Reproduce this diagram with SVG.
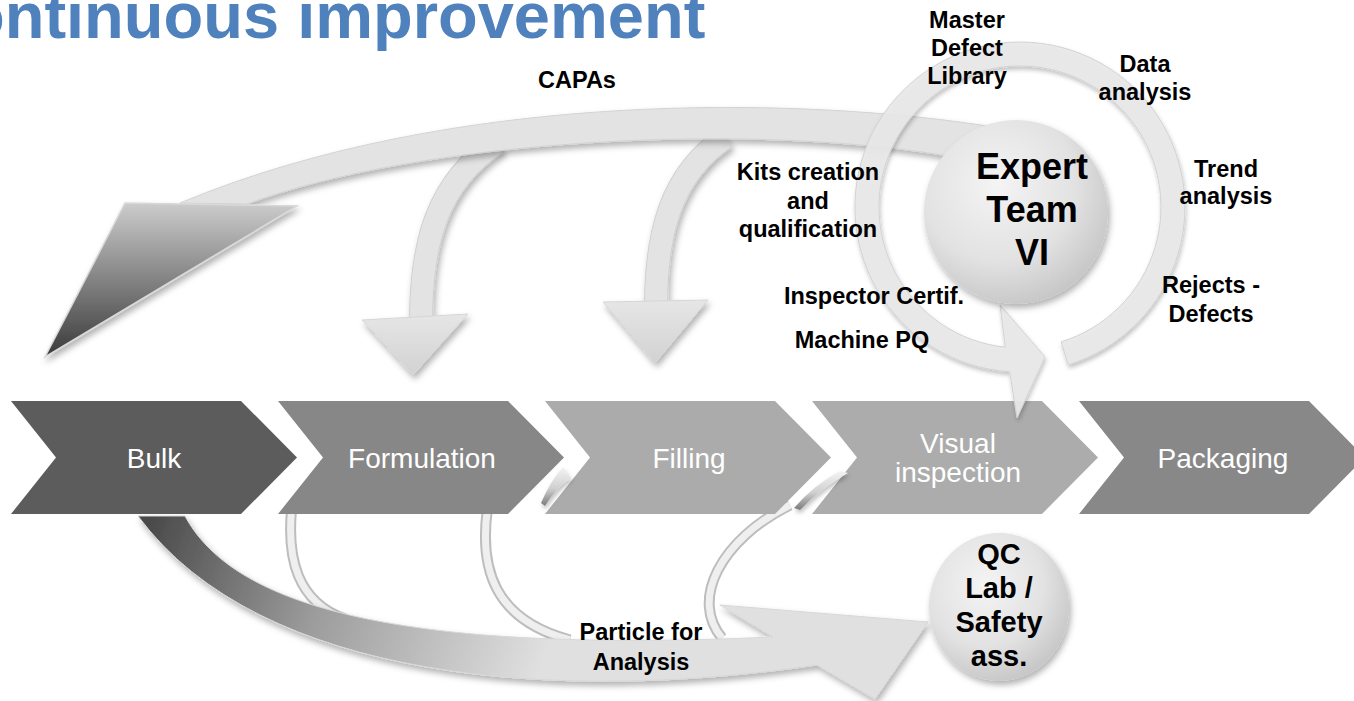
<svg xmlns="http://www.w3.org/2000/svg" width="1354" height="701" viewBox="0 0 1354 701">
  <defs>
    <filter id="shadow" x="-20%" y="-20%" width="150%" height="160%">
      <feDropShadow dx="2" dy="4" stdDeviation="3" flood-color="#000" flood-opacity="0.3"/>
    </filter>
    <filter id="softShadow" x="-20%" y="-20%" width="150%" height="160%">
      <feDropShadow dx="1" dy="3" stdDeviation="2" flood-color="#000" flood-opacity="0.25"/>
    </filter>
    <linearGradient id="capaHead" x1="0" y1="203" x2="0" y2="357" gradientUnits="userSpaceOnUse">
      <stop offset="0" stop-color="#cccccc"/>
      <stop offset="1" stop-color="#3a3a3a"/>
    </linearGradient>
    <linearGradient id="lightHead" x1="0" y1="0" x2="0" y2="1">
      <stop offset="0" stop-color="#e6e6e6"/>
      <stop offset="1" stop-color="#d2d2d2"/>
    </linearGradient>
    <linearGradient id="particleGrad" x1="150" y1="520" x2="540" y2="670" gradientUnits="userSpaceOnUse">
      <stop offset="0" stop-color="#4a4a4a"/>
      <stop offset="0.45" stop-color="#9c9c9c"/>
      <stop offset="1" stop-color="#e0e0e0"/>
    </linearGradient>
    <radialGradient id="ballGrad" cx="0.4" cy="0.35" r="0.7">
      <stop offset="0" stop-color="#f4f4f4"/>
      <stop offset="0.6" stop-color="#e2e2e2"/>
      <stop offset="1" stop-color="#c4c4c4"/>
    </radialGradient>
    <linearGradient id="curlGrad" x1="0" y1="0" x2="0" y2="1">
      <stop offset="0" stop-color="#f4f4f4"/>
      <stop offset="0.55" stop-color="#d0d0d0"/>
      <stop offset="1" stop-color="#7a7a7a"/>
    </linearGradient>
    <style>
      .title { font-family: "Liberation Sans", Arial, sans-serif; font-weight: bold; font-size: 65px; fill: #4F81BD; }
      .lbl { font-family: "Liberation Sans", Arial, sans-serif; font-weight: bold; font-size: 23.5px; fill: #000; text-anchor: middle; }
      .big { font-family: "Liberation Sans", Arial, sans-serif; font-weight: bold; font-size: 36px; fill: #000; text-anchor: middle; }
      .qc { font-family: "Liberation Sans", Arial, sans-serif; font-weight: bold; font-size: 29px; fill: #000; text-anchor: middle; }
      .step { font-family: "Liberation Sans", Arial, sans-serif; font-size: 28px; fill: #fff; text-anchor: middle; }
      .band { fill: #e3e3e3; stroke: #d3d3d3; stroke-width: 1; }
      .shaftOut { fill: none; stroke: #d0d0d0; stroke-width: 24; }
      .shaftIn { fill: none; stroke: #e3e3e3; stroke-width: 22; }
      .loopOut { fill: none; stroke: #bdbdbd; stroke-width: 11; }
      .loopIn { fill: none; stroke: #efefef; stroke-width: 7; }
      .head { fill: url(#lightHead); stroke: #d6d6d6; stroke-width: 1; }
    </style>
  </defs>

  <rect width="1354" height="701" fill="#fff"/>

  <text class="title" x="-35" y="38">ontinuous improvement</text>

  <g id="connectors">
    <!-- CAPA feedback: two branches down to Formulation and Filling -->
    <g id="capa-branches" filter="url(#shadow)">
      <path class="shaftOut" d="M 421 322 C 421 245 436 182 498 142"/>
      <path class="shaftIn" d="M 421 322 C 421 245 436 182 498 142"/>
      <polygon class="head" points="362,320 468,314 413,375"/>
      <path class="shaftOut" d="M 656 306 C 656 235 670 174 726 137"/>
      <path class="shaftIn" d="M 656 306 C 656 235 670 174 726 137"/>
      <polygon class="head" points="603,302 708,300 655,363"/>
    </g>
    <!-- CAPA main band from the expert team back to Bulk -->
    <g id="capa-band" filter="url(#shadow)">
      <path class="band" d="M 1000 128 C 800 95 450 90 180 203 L 247 204 C 420 140 750 120 960 158 Z"/>
      <polygon points="125,203 297,206 45,357" fill="url(#capaHead)" stroke="#d8d8d8" stroke-width="1.5"/>
    </g>
    <!-- particle sampling loops -->
    <g id="particle-loops">
      <path class="loopOut" d="M 292 505 C 286 560 298 602 345 619"/>
      <path class="loopIn" d="M 292 505 C 286 560 298 602 345 619"/>
      <path class="loopOut" d="M 488 505 C 478 570 495 620 570 640"/>
      <path class="loopIn" d="M 488 505 C 478 570 495 620 570 640"/>
      <path class="loopOut" d="M 790 505 C 720 540 690 600 722 638"/>
      <path class="loopIn" d="M 790 505 C 720 540 690 600 722 638"/>
    </g>
    <!-- particle band to QC lab -->
    <path id="particle-band" filter="url(#shadow)" fill="url(#particleGrad)" stroke="#d8d8d8" stroke-width="1"
          d="M 185 516 C 230 600 380 655 773 637 L 720 605 L 928 622 L 875 699 L 817 665 C 560 703 260 682 138 516 Z"/>
  </g>

  <g id="step-bulk">
    <polygon points="11,401 241,401 297,457.5 241,514 11,514 56,457.5" fill="#5c5c5c"/>
    <text class="step" x="154" y="468">Bulk</text>
  </g>
  <g id="step-formulation">
    <polygon points="278,401 508,401 564,457.5 508,514 278,514 323,457.5" fill="#878787"/>
    <text class="step" x="422" y="468">Formulation</text>
  </g>
  <g id="step-filling">
    <polygon points="545,401 775,401 831,457.5 775,514 545,514 590,457.5" fill="#ababab"/>
    <text class="step" x="689" y="468">Filling</text>
  </g>
  <g id="step-visual">
    <polygon points="812,401 1042,401 1098,457.5 1042,514 812,514 857,457.5" fill="#acacac"/>
    <text class="step" x="958" y="453">Visual</text>
    <text class="step" x="958" y="482">inspection</text>
  </g>
  <g id="step-packaging">
    <polygon points="1079,401 1309,401 1365,457.5 1309,514 1079,514 1124,457.5" fill="#888888"/>
    <text class="step" x="1223" y="468">Packaging</text>
  </g>

  <!-- loop ends curling out between the steps -->
  <g id="loop-tips" filter="url(#softShadow)">
    <path d="M 541 503 Q 551 480 563 467 L 571 478 Q 556 488 545 506 Z" fill="url(#curlGrad)"/>
    <path d="M 794 508 Q 815 484 840 471 L 848 473 Q 822 487 800 510 Z" fill="url(#curlGrad)"/>
  </g>

  <!-- expert team cycle ring -->
  <g id="expert-ring" filter="url(#softShadow)">
    <path d="M 1068.2 364.8 A 165 165 0 1 0 1009.7 371.7 L 1017 418 L 1045 357 L 1000 305 L 1005.3 347.2 A 141 141 0 1 1 1061.2 341.8 Z"
          fill="#e8e8e8" fill-opacity="0.92" stroke="#d2d2d2" stroke-width="1"/>
  </g>

  <g id="expert-team">
    <circle cx="1016" cy="212" r="92" fill="url(#ballGrad)" filter="url(#shadow)"/>
    <text class="big" x="1032" y="179">Expert</text>
    <text class="big" x="1032" y="222">Team</text>
    <text class="big" x="1032" y="265">VI</text>
  </g>

  <g id="qc-lab">
    <ellipse cx="999" cy="607" rx="70" ry="74" fill="url(#ballGrad)" filter="url(#shadow)"/>
    <text class="qc" x="999" y="564">QC</text>
    <text class="qc" x="999" y="598">Lab /</text>
    <text class="qc" x="999" y="632">Safety</text>
    <text class="qc" x="999" y="666">ass.</text>
  </g>

  <g id="labels">
    <text class="lbl" x="577" y="88">CAPAs</text>
    <text class="lbl" x="967" y="28">Master</text>
    <text class="lbl" x="967" y="56">Defect</text>
    <text class="lbl" x="967" y="84">Library</text>
    <text class="lbl" x="1145" y="72">Data</text>
    <text class="lbl" x="1145" y="100">analysis</text>
    <text class="lbl" x="808" y="180">Kits creation</text>
    <text class="lbl" x="808" y="209">and</text>
    <text class="lbl" x="808" y="237">qualification</text>
    <text class="lbl" x="1226" y="177">Trend</text>
    <text class="lbl" x="1226" y="204">analysis</text>
    <text class="lbl" x="874" y="304">Inspector Certif.</text>
    <text class="lbl" x="1211" y="293">Rejects -</text>
    <text class="lbl" x="1211" y="322">Defects</text>
    <text class="lbl" x="862" y="348">Machine PQ</text>
    <text class="lbl" x="641" y="640">Particle for</text>
    <text class="lbl" x="641" y="670">Analysis</text>
  </g>
</svg>
